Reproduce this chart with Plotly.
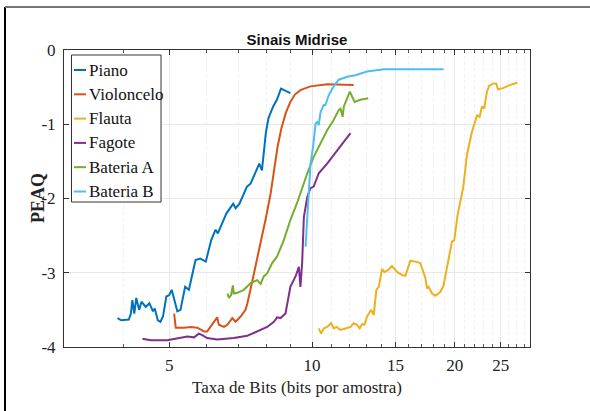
import plotly.graph_objects as go

# ---------------- data ----------------
piano_x = [3.89, 3.96, 4.11, 4.15, 4.18, 4.22, 4.26, 4.32, 4.37, 4.46, 4.54, 4.62, 4.66, 4.73, 4.79,
           4.85, 4.93, 5.00, 5.06, 5.13, 5.20, 5.28, 5.40, 5.50, 5.68, 5.81, 5.97, 6.13, 6.26, 6.33,
           6.60, 6.82, 6.90, 7.03, 7.29, 7.42, 7.74, 7.84, 7.99, 8.09, 8.28, 8.43, 8.60, 9.00]
piano_y = [-3.61, -3.64, -3.63, -3.55, -3.37, -3.55, -3.34, -3.50, -3.39, -3.46, -3.41, -3.52, -3.48, -3.64, -3.66,
           -3.59, -3.32, -3.30, -3.23, -3.37, -3.52, -3.50, -3.19, -3.23, -2.83, -2.81, -2.85, -2.56, -2.42, -2.47,
           -2.20, -2.07, -2.13, -2.07, -1.84, -1.80, -1.53, -1.62, -1.12, -0.92, -0.76, -0.67, -0.52, -0.58]

violoncelo_x = [5.12, 5.16, 5.37, 5.55, 5.73, 5.92, 6.01, 6.11, 6.31, 6.36, 6.52, 6.63, 6.79, 6.90, 7.07, 7.24,
                7.30, 7.42, 7.55, 7.70, 7.85, 8.00, 8.17, 8.32, 8.46, 8.62, 8.80, 9.00, 9.20, 9.45, 9.92,
                10.77, 11.53, 12.24]
violoncelo_y = [-3.55, -3.74, -3.74, -3.73, -3.74, -3.79, -3.79, -3.73, -3.60, -3.70, -3.73, -3.70, -3.61, -3.66, -3.59, -3.50,
                -3.42, -3.22, -3.00, -2.72, -2.48, -2.25, -1.95, -1.60, -1.30, -1.05, -0.85, -0.70, -0.60, -0.54, -0.49,
                -0.46, -0.46, -0.47]

flauta_x = [10.33, 10.45, 10.58, 10.76, 10.97, 11.11, 11.26, 11.48, 11.76, 12.05, 12.24, 12.44, 12.60, 12.75,
            12.89, 13.06, 13.32, 13.49, 13.66, 13.82, 14.05, 14.21, 14.43, 14.74, 15.11, 15.48, 15.73, 16.11,
            16.51, 16.91, 17.33, 17.47, 17.61, 17.90, 18.19, 18.63, 18.93, 19.40, 19.72, 19.94, 20.27, 20.83,
            21.21, 21.73, 22.27, 22.55, 22.81, 23.06, 23.37, 23.63, 24.13, 24.44, 24.65, 25.33, 26.16, 27.10]
flauta_y = [-3.75, -3.82, -3.75, -3.73, -3.68, -3.75, -3.73, -3.77, -3.75, -3.73, -3.68, -3.70, -3.75, -3.69,
            -3.70, -3.59, -3.50, -3.57, -3.23, -3.19, -2.95, -2.99, -2.97, -2.91, -2.99, -3.03, -3.04, -2.84,
            -2.85, -2.87, -3.07, -3.21, -3.19, -3.28, -3.31, -3.26, -3.17, -2.83, -2.58, -2.56, -2.22, -1.85,
            -1.41, -1.10, -0.88, -0.90, -0.76, -0.79, -0.56, -0.48, -0.45, -0.45, -0.53, -0.51, -0.47, -0.44]

fagote_x = [4.39, 4.57, 4.95, 5.28, 5.46, 5.64, 5.77, 5.87, 6.01, 6.31, 6.57, 6.84, 7.30, 7.66, 8.04, 8.31,
            8.44, 8.58, 8.79, 9.00, 9.23, 9.38, 9.45, 9.53, 9.61, 9.77, 9.92, 10.08, 10.33, 10.76, 11.29,
            11.66, 12.05]
fagote_y = [-3.89, -3.91, -3.91, -3.88, -3.86, -3.87, -3.82, -3.84, -3.88, -3.90, -3.89, -3.88, -3.85, -3.79, -3.73, -3.66,
            -3.60, -3.61, -3.55, -3.19, -3.05, -2.92, -3.19, -2.87, -2.25, -1.98, -1.86, -1.84, -1.66, -1.53, -1.35,
            -1.24, -1.12]

bateria_a_x = [6.63, 6.68, 6.75, 6.81, 6.84, 6.96, 7.18, 7.42, 7.66, 7.79, 7.91, 8.04, 8.24, 8.44, 8.72, 9.00,
               9.30, 9.45, 9.77, 10.08, 10.42, 10.76, 11.11, 11.38, 11.48, 11.60, 11.67, 11.86, 12.01, 12.15,
               12.30, 12.64, 13.13]
bateria_a_y = [-3.28, -3.34, -3.30, -3.17, -3.28, -3.27, -3.23, -3.14, -3.10, -3.15, -3.05, -3.01, -2.87, -2.78, -2.56, -2.29,
               -2.06, -1.93, -1.66, -1.44, -1.26, -1.08, -0.94, -0.81, -0.79, -0.90, -0.76, -0.66, -0.56, -0.63,
               -0.70, -0.67, -0.65]

bateria_b_x = [9.69, 9.77, 9.84, 9.92, 10.06, 10.17, 10.25, 10.33, 10.42, 10.50, 10.58, 10.67, 10.84, 11.11,
               11.38, 11.86, 12.34, 13.06, 14.16, 15.35, 16.91, 18.93]
bateria_b_y = [-2.65, -2.25, -1.89, -1.55, -1.28, -0.99, -0.97, -1.01, -0.84, -0.79, -0.74, -0.74, -0.61, -0.49,
               -0.40, -0.36, -0.34, -0.29, -0.26, -0.26, -0.26, -0.26]

series_names = ["Piano", "Violoncelo", "Flauta", "Fagote", "Bateria A", "Bateria B"]
series_x = [piano_x, violoncelo_x, flauta_x, fagote_x, bateria_a_x, bateria_b_x]
series_y = [piano_y, violoncelo_y, flauta_y, fagote_y, bateria_a_y, bateria_b_y]
colors = ["#0072BD", "#D95319", "#EDB120", "#7E2F8E", "#77AC30", "#4DBEEE"]

x_tick_vals = [5, 10, 15, 20, 25]
x_tick_text = ["5", "10", "15", "20", "25"]
x_minor_vals = list(range(3, 29))
y_tick_vals = [0, -1, -2, -3, -4]
y_tick_text = ["0", "-1", "-2", "-3", "-4"]

SERIF = "Liberation Serif, Times New Roman, serif"

fig = go.Figure()
for name, xs, ys, c in zip(series_names, series_x, series_y, colors):
    fig.add_trace(go.Scatter(x=xs, y=ys, mode="lines", name=name,
                             line=dict(color=c, width=2), showlegend=False))

fig.update_layout(
    width=590, height=411,
    margin=dict(l=64, r=60, t=50, b=64),
    paper_bgcolor="white", plot_bgcolor="white",
    title=dict(text="<b>Sinais Midrise</b>", x=0.5, xref="paper", xanchor="center",
               y=0.9027, yref="container", yanchor="middle",
               font=dict(family="Liberation Sans Narrow, Liberation Sans, Arial, sans-serif", size=15, color="#111111")),
)

fig.update_xaxes(
    type="log", range=[0.4771, 1.4594],
    tickmode="array", tickvals=x_tick_vals, ticktext=x_tick_text,
    ticks="inside", ticklen=5, tickcolor="#333333",
    showgrid=True, gridcolor="#e8e8e8", gridwidth=1,
    minor=dict(tickmode="array", tickvals=x_minor_vals, ticks="inside", ticklen=3,
               tickcolor="#555555", showgrid=True, gridcolor="#efefef", griddash="dot"),
    showline=True, linecolor="#333333", linewidth=1, mirror="ticks",
    tickfont=dict(family=SERIF, size=17, color="#222222"),
    ticklabelstandoff=3, zeroline=False,
)
fig.update_yaxes(
    range=[-4, 0],
    tickmode="array", tickvals=y_tick_vals, ticktext=y_tick_text,
    ticks="inside", ticklen=5, tickcolor="#333333",
    showgrid=True, gridcolor="#e8e8e8", gridwidth=1,
    showline=True, linecolor="#333333", linewidth=1, mirror="ticks",
    tickfont=dict(family=SERIF, size=17, color="#222222"),
    ticklabelstandoff=4, zeroline=False,
)

# axis titles
fig.add_annotation(text="Taxa de Bits (bits por amostra)", xref="paper", yref="paper",
                   x=0.5, y=-0.138, xanchor="center", yanchor="middle", showarrow=False,
                   font=dict(family=SERIF, size=17, color="#222222"))
fig.add_annotation(text="<b>PEAQ</b>", xref="paper", yref="paper", textangle=-90,
                   x=-0.0558, y=0.502, xanchor="center", yanchor="middle", showarrow=False,
                   font=dict(family=SERIF, size=18, color="#222222"))

# compact legend box (MATLAB style), placed in paper coordinates
fig.add_shape(type="rect", xref="paper", yref="paper", x0=0.0161, x1=0.2082, y0=0.4882, y1=0.9832,
              line=dict(color="#333333", width=1), fillcolor="white", layer="above")
for i, (name, c) in enumerate(zip(series_names, colors)):
    yp = (277 - 24.3 * i) / 297
    fig.add_shape(type="line", xref="paper", yref="paper", x0=0.0215, x1=0.0472, y0=yp, y1=yp,
                  line=dict(color=c, width=2), layer="above")
    fig.add_annotation(text=name, xref="paper", yref="paper", x=0.0494, y=yp,
                       xanchor="left", yanchor="middle", showarrow=False,
                       font=dict(family=SERIF, size=17, color="#111111"))

# outer frame lines of the original figure
fig.add_shape(type="line", xref="paper", yref="paper", x0=-0.1266, x1=-0.1266, y0=-0.2155, y1=1.1448,
              line=dict(color="#000000", width=2))
fig.add_shape(type="line", xref="paper", yref="paper", x0=-0.1266, x1=1.1288, y0=1.1448, y1=1.1448,
              line=dict(color="#777777", width=2))

fig.write_html("out.html")
